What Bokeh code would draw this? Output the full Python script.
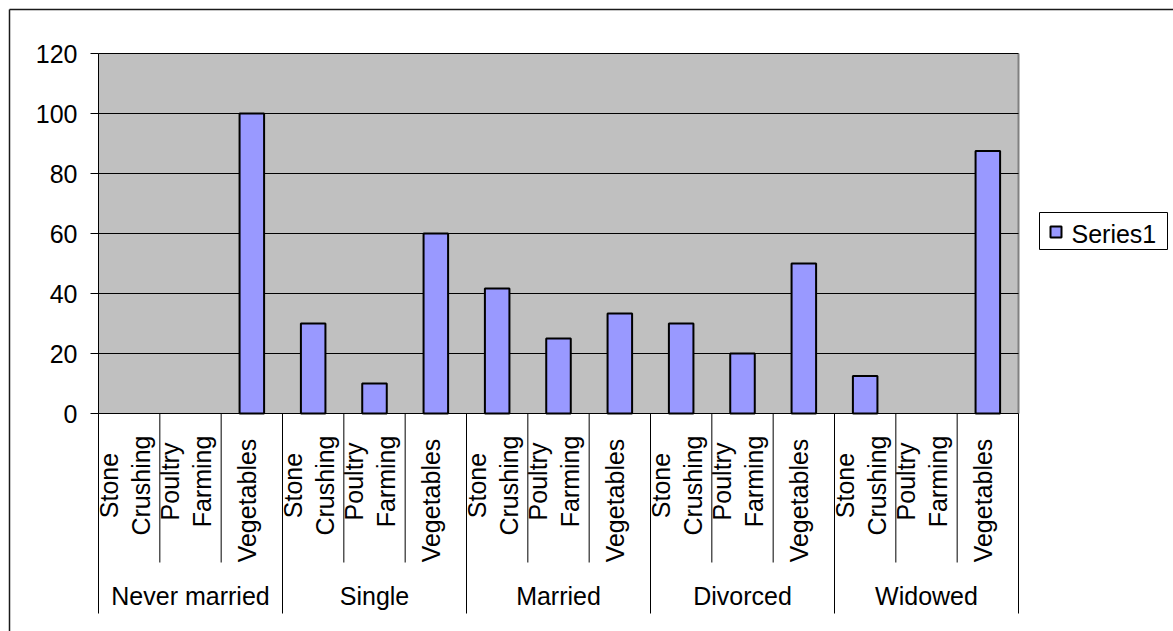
import math

from bokeh.plotting import figure
from bokeh.models import Range1d, ColumnDataSource
from bokeh.core.properties import value
from bokeh.embed import file_html
from bokeh.resources import INLINE

# ---- data -------------------------------------------------------------
groups = ["Never married", "Single", "Married", "Divorced", "Widowed"]
activities = ["Stone Crushing", "Poultry Farming", "Vegetables"]
never_married = [0, 0, 100]
single = [30, 10, 60]
married = [41.7, 25, 33.3]
divorced = [30, 20, 50]
widowed = [12.5, 0, 87.5]
y_ticks = [0, 20, 40, 60, 80, 100, 120]
series_name = "Series1"

series_by_group = [never_married, single, married, divorced, widowed]

# ---- layout (canvas pixels) --------------------------------------------
W, H = 1173, 631
PA_L, PA_R, PA_T, PA_B = 98, 1018, 53, 413      # grey plot area
Y_MAX = y_ticks[-1]
n_act = len(activities)
n_cat = len(groups) * n_act
SX = (PA_R - PA_L) / n_cat                       # px per category
SY = (PA_B - PA_T) / Y_MAX                       # px per value unit


def dx(px):
    return (px - PA_L) / SX


def dy(py):
    return (PA_B - py) / SY


def wx(px):
    return px / SX


FONT = value("Liberation Sans")
FSIZE = "25px"
BAR_FILL = "#9999FF"
AREA_FILL = "#C0C0C0"

p = figure(
    width=W, height=H,
    x_range=Range1d(dx(0), dx(W)), y_range=Range1d(dy(H), dy(0)),
    x_axis_type=None, y_axis_type=None,
    output_backend="svg", toolbar_location=None,
    min_border=0, outline_line_color=None,
    background_fill_color="white", border_fill_color="white",
)

# chart-area frame (top and left edges)
p.segment(x0=[dx(9), dx(9)], y0=[dy(9), dy(9)], x1=[dx(W + 5), dx(9)], y1=[dy(9), dy(H + 5)],
          line_color="#1a1a1a", line_width=1.5)

# grey plot area
p.quad(left=[0], right=[n_cat], bottom=[0], top=[Y_MAX], fill_color=AREA_FILL, line_color=None)
p.segment(x0=[n_cat], y0=[0], x1=[n_cat], y1=[Y_MAX], line_color="#808080", line_width=2)

# horizontal gridlines
grid_vals = y_ticks[1:]
p.segment(x0=[0] * len(grid_vals), x1=[n_cat] * len(grid_vals), y0=grid_vals, y1=grid_vals,
          line_color="black", line_width=1)

# bars (empty categories get no outline)
xs, tops, outline = [], [], []
for g, vals in enumerate(series_by_group):
    for a, v in enumerate(vals):
        xs.append(g * n_act + a + 0.5)
        tops.append(v)
        outline.append(1.0 if v > 0 else 0.0)
bars = ColumnDataSource(dict(x=xs, top=tops, outline=outline))
p.vbar(x="x", top="top", bottom=0, width=0.4, source=bars, fill_color=BAR_FILL,
       line_color="black", line_width=2, line_alpha="outline")

# value axis: line, ticks and labels
p.segment(x0=[0], y0=[0], x1=[0], y1=[Y_MAX], line_color="black", line_width=1)
p.segment(x0=[-wx(8)] * len(y_ticks), x1=[0] * len(y_ticks), y0=y_ticks, y1=y_ticks,
          line_color="black", line_width=1)
p.text(x=[-wx(21)] * len(y_ticks), y=y_ticks, text=[str(t) for t in y_ticks],
       text_align="right", text_baseline="middle", text_font=FONT,
       text_font_size=FSIZE, text_color="black")

# category axis line and separators
p.segment(x0=[0], y0=[0], x1=[n_cat], y1=[0], line_color="black", line_width=1)
inner = [k for k in range(1, n_cat) if k % n_act]
outer = [k for k in range(0, n_cat + 1) if k % n_act == 0]
p.segment(x0=inner, x1=inner, y0=[0] * len(inner), y1=[dy(562)] * len(inner),
          line_color="black", line_width=1)
p.segment(x0=outer, x1=outer, y0=[0] * len(outer), y1=[dy(613)] * len(outer),
          line_color="black", line_width=1)

# activity labels, rotated, wrapped onto two lines where they have two words
label_mid_px = {"Stone Crushing": 485, "Poultry Farming": 481, "Vegetables": 500}
LINE_PITCH = 32
BLOCK_SHIFT = -4.5
lx, ly, lt = [], [], []
for g in range(len(groups)):
    for a, name in enumerate(activities):
        words = name.split(" ")
        n = len(words)
        for j, w in enumerate(words):
            off = BLOCK_SHIFT + (j - (n - 1) / 2) * LINE_PITCH
            lx.append(g * n_act + a + 0.5 + wx(off))
            ly.append(dy(label_mid_px[name]))
            lt.append(w)
p.text(x=lx, y=ly, text=lt, angle=math.pi / 2, text_align="center",
       text_baseline="middle", text_font=FONT, text_font_size=FSIZE, text_color="black")

# group labels
p.text(x=[g * n_act + n_act / 2 for g in range(len(groups))], y=[dy(595)] * len(groups),
       text=groups, text_align="center", text_baseline="middle", text_font=FONT,
       text_font_size=FSIZE, text_color="black")

# legend
p.quad(left=[dx(1039)], right=[dx(1167)], top=[dy(212)], bottom=[dy(249)],
       fill_color="white", line_color="black", line_width=1)
p.quad(left=[dx(1050)], right=[dx(1061)], top=[dy(226)], bottom=[dy(237)],
       fill_color=BAR_FILL, line_color="black", line_width=2)
p.text(x=[dx(1071)], y=[dy(233)], text=[series_name], text_align="left",
       text_baseline="middle", text_font=FONT, text_font_size=FSIZE, text_color="black")

open("out.html", "w").write(file_html(p, INLINE))
